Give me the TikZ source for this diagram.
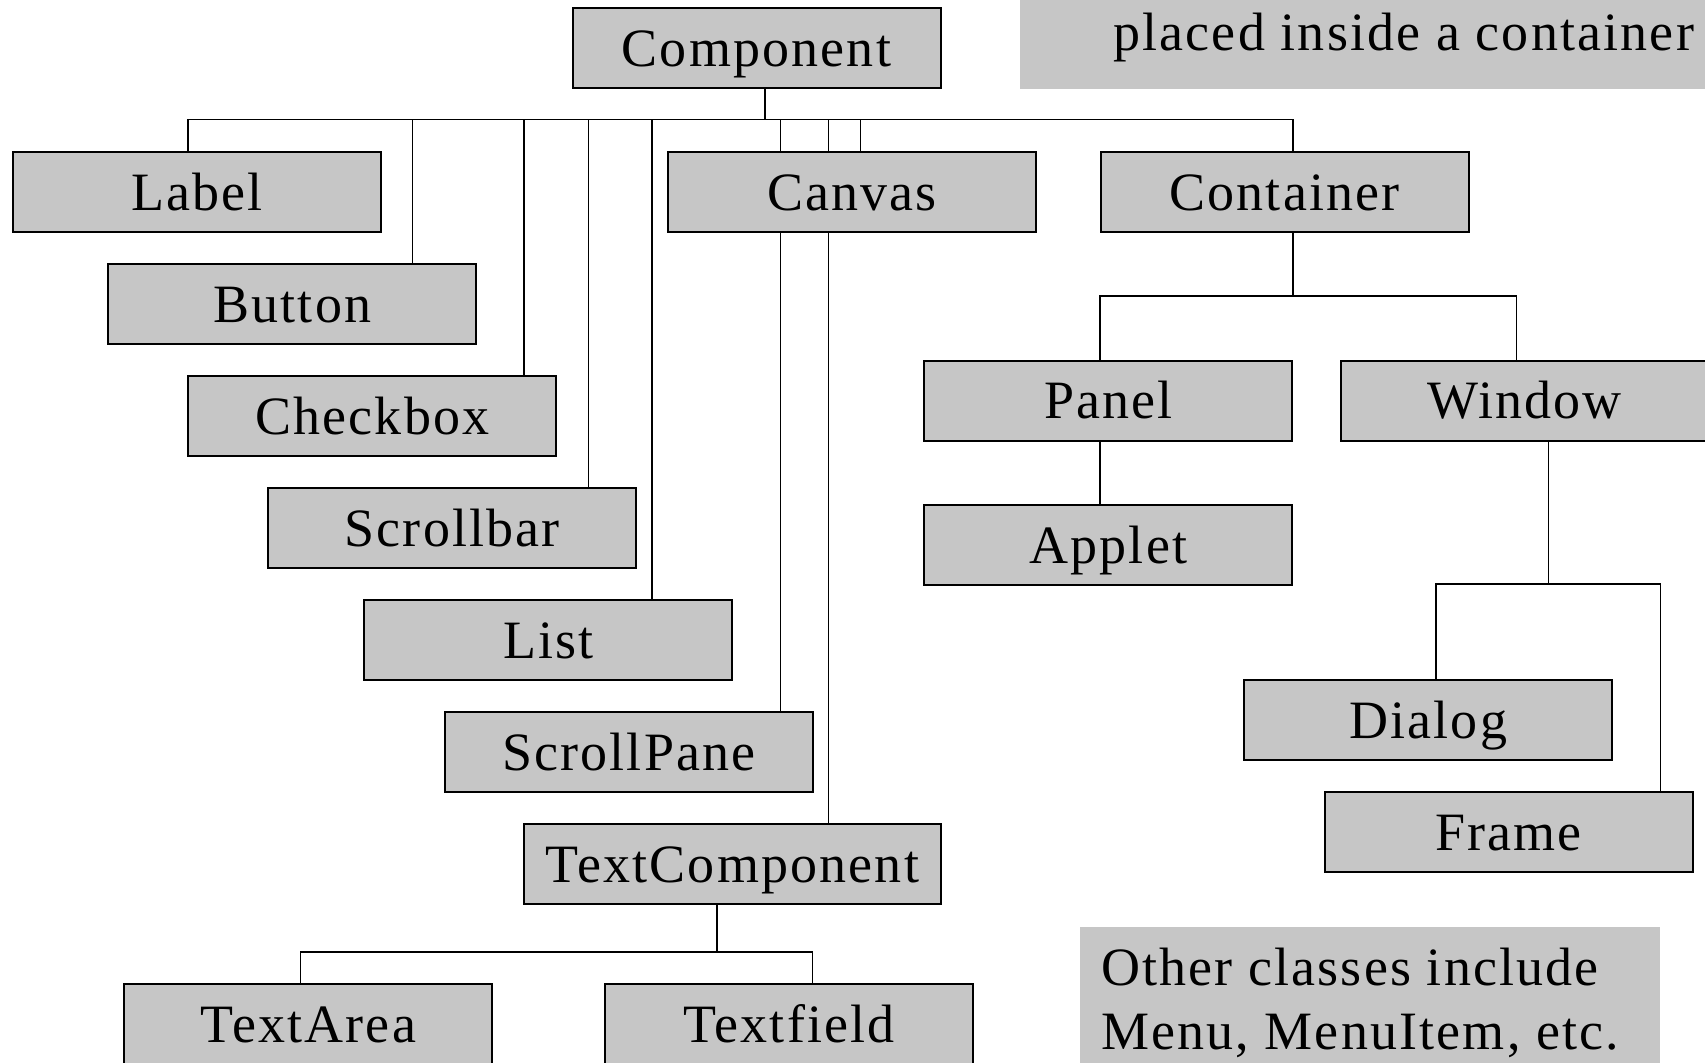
\documentclass[tikz,border=0pt]{standalone}
\usepackage{fontspec}
\newfontfamily\diagfont{Liberation Serif}[LetterSpace=4]
\usetikzlibrary{backgrounds}
\definecolor{boxgray}{RGB}{198,198,198}
\tikzset{
  cls/.style={draw=black, line width=1pt, fill=boxgray,
    minimum width=184pt, minimum height=40pt, inner sep=0pt,
    text height=18pt, text depth=0pt,
    font=\diagfont\fontsize{27}{32}\selectfont},
  link/.style={draw=black, line width=0.8pt},
  notebox/.style={fill=boxgray},
  notetext/.style={anchor=base west, inner sep=0pt,
    font=\diagfont\fontsize{27}{32}\selectfont},
}
\begin{document}
\begin{tikzpicture}[x=0.5pt,y=-0.5pt]
\useasboundingbox (0,0) rectangle (1705,1062);

% note panels
\fill[notebox] (1020,0) rectangle (1705,88.9);
\node[notetext] (placed) at (1113,50.6) {placed inside a container};
\fill[notebox] (1080,926.7) rectangle (1660,1070);
\node[notetext] (other1) at (1100.7,985.5) {Other classes include};
\node[notetext] (other2) at (1100.7,1049) {Menu, MenuItem, etc.};

% class boxes
\node[cls] (comp)       at (756.5,48.2) {Component};
\node[cls] (label)      at (196.8,192)  {Label};
\node[cls] (button)     at (292.4,304)  {Button};
\node[cls] (checkbox)   at (372.4,416)  {Checkbox};
\node[cls] (scrollbar)  at (452.3,528)  {Scrollbar};
\node[cls] (list)       at (548.4,640)  {List};
\node[cls] (scrollpane) at (628.8,752)  {ScrollPane};
\node[cls, minimum width=208.25pt] (textcomp) at (732.5,864) {TextComponent};
\node[cls] (textarea)   at (308.4,1024) {TextArea};
\node[cls] (textfield)  at (788.9,1024) {Textfield};
\node[cls] (canvas)     at (851.9,192)  {Canvas};
\node[cls] (container)  at (1284.6,192.3) {Container};
\node[cls] (panel)      at (1108.4,400.6) {Panel};
\node[cls] (window)     at (1524.7,400.6) {Window};
\node[cls] (applet)     at (1108.4,545) {Applet};
\node[cls] (dialog)     at (1428.2,720) {Dialog};
\node[cls] (frame)      at (1508.6,832) {Frame};

% connectors, kept behind the boxes
\begin{scope}[on background layer]
  \coordinate (cb) at (765,119.3);
  \draw[link] (765,0 |- comp.south) -- (cb);
  \foreach \nm/\sx in {label/188, button/412.6, checkbox/524.2,
      scrollbar/588.5, list/652, scrollpane/780.5, textcomp/828.6,
      canvas/860.5, container/1292.7}
    \draw[link] (cb) -| (\sx,0 |- \nm.north);

  \coordinate (kb) at (1292.7,296.2);
  \draw[link] (1292.7,0 |- container.south) -- (kb);
  \draw[link] (kb) -| (1100.2,0 |- panel.north);
  \draw[link] (kb) -| (1516.5,0 |- window.north);
  \draw[link] (1100.2,0 |- panel.south) -- (1100.2,0 |- applet.north);

  \coordinate (wb) at (1548.4,584);
  \draw[link] (1548.4,0 |- window.south) -- (wb);
  \draw[link] (wb) -| (1436,0 |- dialog.north);
  \draw[link] (wb) -| (1660.5,0 |- frame.north);

  \coordinate (tb) at (716.8,951.7);
  \draw[link] (716.8,0 |- textcomp.south) -- (tb);
  \draw[link] (tb) -| (300.4,0 |- textarea.north);
  \draw[link] (tb) -| (812.5,0 |- textfield.north);
\end{scope}
\end{tikzpicture}
\end{document}
